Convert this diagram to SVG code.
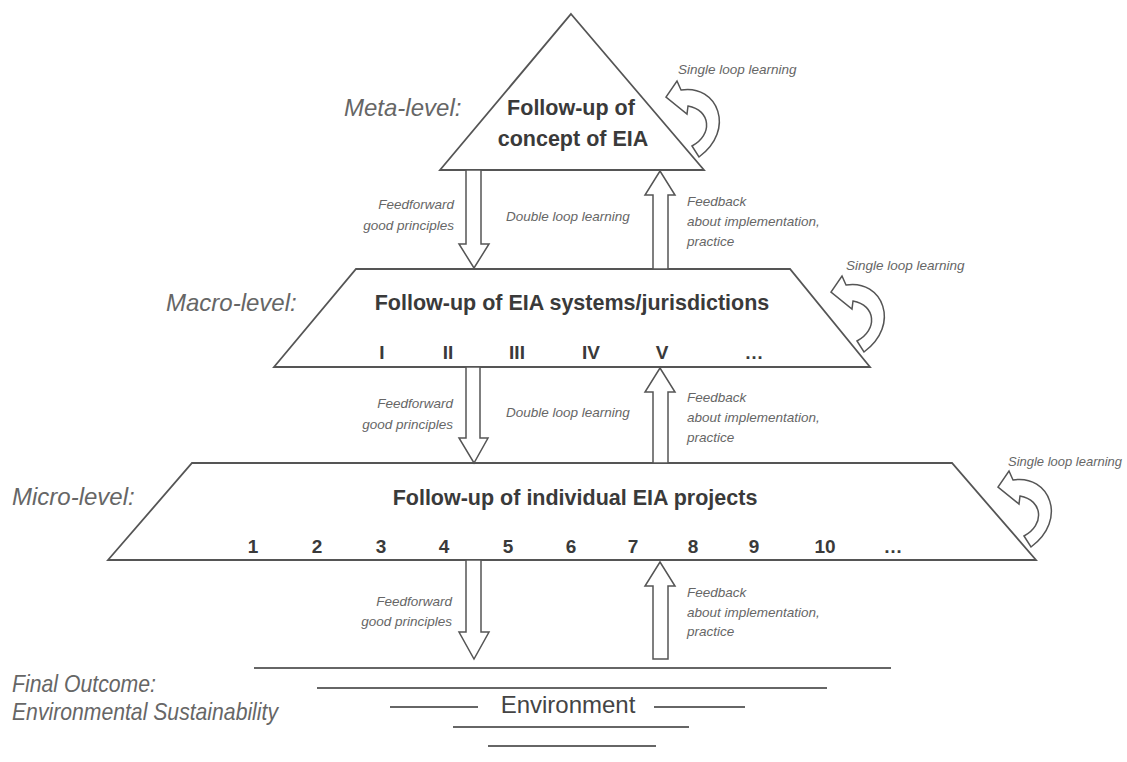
<svg xmlns="http://www.w3.org/2000/svg" width="1127" height="762" viewBox="0 0 1127 762">
<defs>
<style>
.shape{fill:#fff;stroke:#555;stroke-width:1.8;stroke-linejoin:miter}
.arr{fill:#fff;stroke:#555;stroke-width:1.5;stroke-linejoin:miter}
.line{stroke:#666;stroke-width:2.2}
.title{font-family:"Liberation Sans",Arial,sans-serif;font-weight:bold;font-size:21.5px;fill:#3a3a3a;text-anchor:middle}
.num{font-family:"Liberation Sans",Arial,sans-serif;font-weight:bold;font-size:19px;fill:#3a3a3a;text-anchor:middle}
.lvl{font-family:"Liberation Sans",Arial,sans-serif;font-style:italic;font-size:24px;fill:#666}
.sm{font-family:"Liberation Sans",Arial,sans-serif;font-style:italic;font-size:13.5px;fill:#666}
.smr{font-family:"Liberation Sans",Arial,sans-serif;font-style:italic;font-size:13.5px;fill:#666;text-anchor:end}
.env{font-family:"Liberation Sans",Arial,sans-serif;font-size:24px;fill:#444;text-anchor:middle}
</style>
<path id="loop" class="arr" d="M692,146 C713,135 711,110 688,106 L687,114 L666,97 L677,81 L681,90 C718,84 736,130 699,157 Z"/>
</defs>
<rect width="1127" height="762" fill="#fff"/>

<g id="meta">
<polygon class="shape" points="571,14 704,170 440,170"/>
<text class="title" x="571" y="115">Follow-up of</text>
<text class="title" x="573" y="146">concept of EIA</text>
<text class="lvl" x="344" y="116">Meta-level:</text>
</g>

<g id="macro">
<polygon class="shape" points="356,269 790,269 870,367 274,367"/>
<text class="title" x="572" y="310">Follow-up of EIA systems/jurisdictions</text>
<text class="num" x="382" y="359">I</text>
<text class="num" x="448" y="359">II</text>
<text class="num" x="517" y="359">III</text>
<text class="num" x="591" y="359">IV</text>
<text class="num" x="662" y="359">V</text>
<text class="num" x="754" y="359">…</text>
<text class="lvl" x="166" y="311">Macro-level:</text>
</g>

<g id="micro">
<polygon class="shape" points="192,463 952,463 1036,560 108,560"/>
<text class="title" x="575" y="505">Follow-up of individual EIA projects</text>
<text class="num" x="253" y="553">1</text>
<text class="num" x="317" y="553">2</text>
<text class="num" x="381" y="553">3</text>
<text class="num" x="444" y="553">4</text>
<text class="num" x="508" y="553">5</text>
<text class="num" x="571" y="553">6</text>
<text class="num" x="633" y="553">7</text>
<text class="num" x="693" y="553">8</text>
<text class="num" x="754" y="553">9</text>
<text class="num" x="825" y="553">10</text>
<text class="num" x="893" y="553">…</text>
<text class="lvl" x="12" y="505">Micro-level:</text>
</g>

<g id="environment">
<line class="line" x1="254" y1="668" x2="891" y2="668"/>
<line class="line" x1="317" y1="688" x2="827" y2="688"/>
<line class="line" x1="390" y1="707" x2="478" y2="707"/>
<line class="line" x1="654" y1="707" x2="745" y2="707"/>
<line class="line" x1="453" y1="727" x2="689" y2="727"/>
<line class="line" x1="488" y1="746" x2="656" y2="746"/>
<text class="env" x="568" y="713">Environment</text>
<text class="lvl" x="12" y="692" font-size="21" textLength="144" lengthAdjust="spacingAndGlyphs">Final Outcome:</text>
<text class="lvl" x="12" y="720" font-size="21" textLength="266" lengthAdjust="spacingAndGlyphs">Environmental Sustainability</text>
</g>

<g id="connectors">
<polygon class="arr" points="466,170 481,170 481,244 489,244 474,268 459,244 466,244"/>
<polygon class="arr" points="660,171 675,195 668,195 668,269 653,269 653,195 645,195"/>
<polygon class="arr" points="466,367 480,367 480,438 488,438 474,463 459,438 466,438"/>
<polygon class="arr" points="660,368 675,392 668,392 668,463 653,463 653,392 645,392"/>
<polygon class="arr" points="466,560 481,560 481,632 489,632 474,659 459,632 466,632"/>
<polygon class="arr" points="660,562 675,586 668,586 668,659 653,659 653,586 645,586"/>
<use href="#loop"/>
<use href="#loop" transform="translate(165,195)"/>
<use href="#loop" transform="translate(332,390)"/>
</g>

<g id="labels">
<text class="sm" x="678" y="74">Single loop learning</text>
<text class="sm" x="846" y="270">Single loop learning</text>
<text class="sm" x="1008" y="466" textLength="114" lengthAdjust="spacingAndGlyphs">Single loop learning</text>

<text class="smr" x="454" y="209">Feedforward</text>
<text class="smr" x="454" y="230">good principles</text>
<text class="sm" x="506" y="221">Double loop learning</text>
<text class="sm" x="687" y="206">Feedback</text>
<text class="sm" x="687" y="226">about implementation,</text>
<text class="sm" x="687" y="246">practice</text>

<text class="smr" x="453" y="408">Feedforward</text>
<text class="smr" x="453" y="429">good principles</text>
<text class="sm" x="506" y="417">Double loop learning</text>
<text class="sm" x="687" y="402">Feedback</text>
<text class="sm" x="687" y="422">about implementation,</text>
<text class="sm" x="687" y="442">practice</text>

<text class="smr" x="452" y="606">Feedforward</text>
<text class="smr" x="452" y="626">good principles</text>
<text class="sm" x="687" y="597">Feedback</text>
<text class="sm" x="687" y="617">about implementation,</text>
<text class="sm" x="687" y="636">practice</text>
</g>
</svg>
